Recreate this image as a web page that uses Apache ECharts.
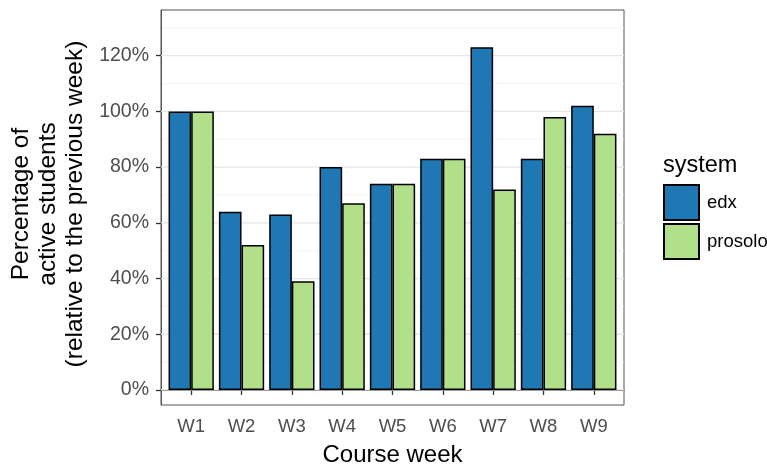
<!DOCTYPE html>
<html>
<head>
<meta charset="utf-8">
<script src="https://cdn.jsdelivr.net/npm/echarts@6/dist/echarts.min.js"></script>
<style>html,body{margin:0;padding:0;background:#fff}#c{width:767px;height:464px}</style>
</head>
<body>
<div id="c"></div>
<script>
const weeks = ['W1','W2','W3','W4','W5','W6','W7','W8','W9'];
const weekPos = [1,2,3,4,5,6,7,8,9];
const edx = [100, 64, 63, 80, 74, 83, 123, 83, 102];
const prosolo = [100, 52, 39, 67, 74, 83, 72, 98, 92];
const yTicks = [0, 20, 40, 60, 80, 100, 120];
const yMinor = [10, 30, 50, 70, 90, 110, 130];
const seriesNames = ['edx', 'prosolo'];
const colors = ['#1F78B4', '#B2DF8A'];

const FONT = 'Liberation Sans';
const chart = echarts.init(document.getElementById('c'), null, {renderer: 'canvas'});

function mk(vals) { return vals.map((v, i) => [weekPos[i], v]); }

function hLineSeries(vals, color, width, z) {
  return {
    type: 'custom', silent: true, z: z, clip: false,
    data: vals.map(v => [weekPos[0], v]),
    renderItem: (params, api) => {
      const cs = params.coordSys;
      const y = api.coord([api.value(0), api.value(1)])[1];
      return {type: 'line', shape: {x1: cs.x, y1: y, x2: cs.x + cs.width, y2: y},
        style: {stroke: color, lineWidth: width}};
    }
  };
}

chart.setOption({
  animation: false,
  textStyle: {fontFamily: FONT},
  grid: {left: 161, right: 143, top: 10, bottom: 59, show: true, borderColor: '#555', borderWidth: 1,
    containLabel: false, outerBoundsMode: 'none'},
  title: {text: 'system', left: 663, top: 154, padding: 0,
    textStyle: {fontFamily: FONT, fontSize: 23.5, fontWeight: 'normal', color: '#000'}},
  legend: {
    orient: 'vertical', left: 663, top: 184, itemWidth: 35, itemHeight: 35, itemGap: 2, padding: 0,
    icon: 'rect',
    textStyle: {fontFamily: FONT, fontSize: 18.5, color: '#000', padding: [0,0,0,3]},
    data: seriesNames
  },
  xAxis: {
    type: 'value', min: 0.4, max: 9.6,
    axisLine: {show: true, lineStyle: {color: '#555', width: 1}},
    splitLine: {show: false},
    axisTick: {show: true, length: 5, lineStyle: {color: '#333', width: 1.3}, customValues: weekPos},
    axisLabel: {show: true, customValues: weekPos, formatter: v => weeks[Math.round(v) - 1] || '', fontFamily: FONT, fontSize: 18.5, color: '#4D4D4D', margin: 12},
    name: 'Course week', nameLocation: 'middle', nameGap: 38,
    nameTextStyle: {fontFamily: FONT, fontSize: 24, color: '#000'}
  },
  yAxis: {
    type: 'value', min: -5.4, max: 136.4,
    axisLine: {show: true, lineStyle: {color: '#555', width: 1}},
    splitLine: {show: false},
    axisTick: {show: true, length: 5, lineStyle: {color: '#333', width: 1.3}, customValues: yTicks},
    axisLabel: {show: true, customValues: yTicks, formatter: v => v + '%', fontFamily: FONT, fontSize: 19.5, color: '#4D4D4D', margin: 12}
  },
  graphic: [{
    type: 'text', x: 48, y: 204, rotation: Math.PI / 2,
    style: {text: 'Percentage of\nactive students\n(relative to the previous week)', align: 'center', verticalAlign: 'middle',
      font: '24.5px "Liberation Sans"', fill: '#000', lineHeight: 27}
  }],
  series: [
    hLineSeries(yMinor, '#F2F2F2', 0.8, 0),
    hLineSeries(yTicks, '#E6E6E6', 1.3, 1),
    {
      name: seriesNames[0], type: 'bar', data: mk(edx), barWidth: '45%', barGap: '0%', z: 3,
      itemStyle: {color: colors[0], borderColor: '#000', borderWidth: 1.5}
    },
    {
      name: seriesNames[1], type: 'bar', data: mk(prosolo), barWidth: '45%', barGap: '0%', z: 3,
      itemStyle: {color: colors[1], borderColor: '#000', borderWidth: 1.5}
    }
  ]
});
</script>
</body>
</html>
